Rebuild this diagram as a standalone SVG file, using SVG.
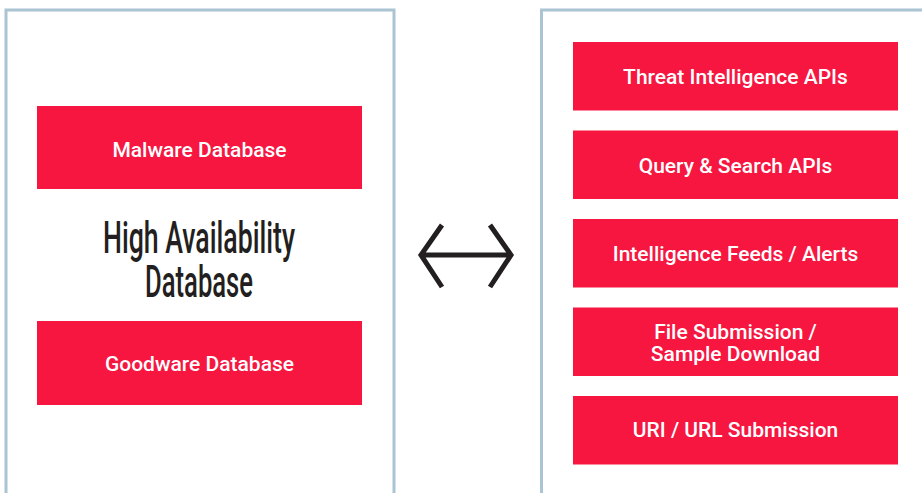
<svg xmlns="http://www.w3.org/2000/svg" width="922" height="493" viewBox="0 0 922 493">
<style>
.panel{fill:#fff;stroke:#aac4d4;stroke-width:3}
.box{fill:#f6163f}
.lbl{font-family:Roboto,"Liberation Sans",sans-serif;font-weight:500;font-size:21px;fill:#fff;text-anchor:middle}
.title{font-family:Roboto,"Liberation Sans",sans-serif;font-weight:500;font-size:44px;fill:#231f20;text-anchor:middle}
.arrow{fill:none;stroke:#231f20;stroke-width:5}
</style>
<rect width="922" height="493" fill="#fff"/>
<g id="left-panel">
<rect class="panel" x="6" y="10" width="388" height="500"/>
</g>
<g id="right-panel">
<rect class="panel" x="541.5" y="10" width="400" height="500"/>
</g>
<g id="malware">
<rect class="box" x="37" y="106" width="325" height="83"/>
<text class="lbl" x="199.5" y="156.5">Malware Database</text>
</g>
<g id="title">
<text class="title" x="199" y="253" textLength="192" lengthAdjust="spacingAndGlyphs">High Availability</text>
<text class="title" x="199" y="297" textLength="108" lengthAdjust="spacingAndGlyphs">Database</text>
</g>
<g id="goodware">
<rect class="box" x="37" y="321" width="325" height="84"/>
<text class="lbl" x="199.5" y="370.5">Goodware Database</text>
</g>
<g id="threat">
<rect class="box" x="573" y="42" width="325" height="68.5"/>
<text class="lbl" x="735.5" y="84">Threat Intelligence APIs</text>
</g>
<g id="query">
<rect class="box" x="573" y="130.5" width="325" height="68.5"/>
<text class="lbl" x="735.5" y="172.5">Query &amp; Search APIs</text>
</g>
<g id="feeds">
<rect class="box" x="573" y="219" width="325" height="68.5"/>
<text class="lbl" x="735.5" y="261">Intelligence Feeds / Alerts</text>
</g>
<g id="file">
<rect class="box" x="573" y="307.5" width="325" height="68.5"/>
<text class="lbl" x="735.5" y="339">File Submission /</text>
<text class="lbl" x="735.5" y="361">Sample Download</text>
</g>
<g id="uri">
<rect class="box" x="573" y="396" width="325" height="68.5"/>
<text class="lbl" x="735.5" y="437">URI / URL Submission</text>
</g>
<g id="connectors">
<path class="arrow" d="M421 255 H511 M442 225 L421 255 L442 287 M490 225 L511 255 L490 287"/>
</g>
</svg>
